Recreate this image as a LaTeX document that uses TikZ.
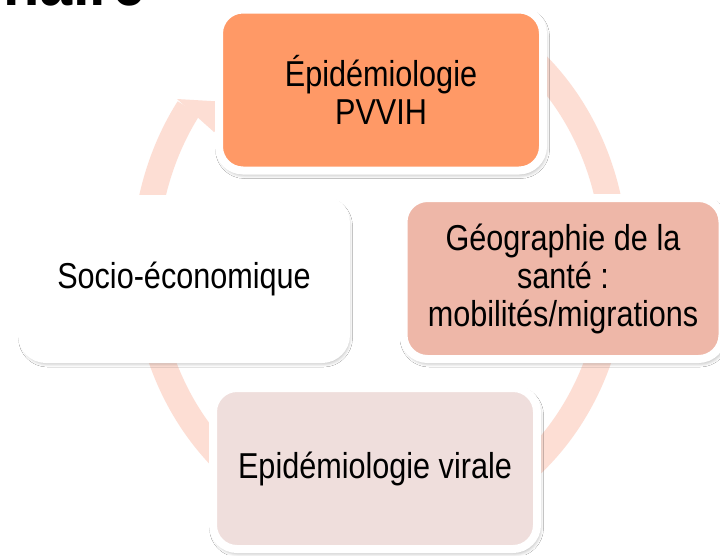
\documentclass[tikz,border=0pt]{standalone}
\usepackage{fontspec}
\setmainfont{Liberation Sans}[FakeStretch=0.85]
\usetikzlibrary{shadows.blur}
\definecolor{ringc}{RGB}{253,222,212}
\definecolor{topc}{RGB}{255,153,102}
\definecolor{rightc}{RGB}{238,183,168}
\definecolor{bottomc}{RGB}{239,222,220}
\tikzset{
  cyclebox/.style={rectangle, rounded corners=24pt, draw=white, line width=8pt,
    minimum width=324pt, minimum height=161pt, inner sep=0pt, align=center,
    font=\fontsize{36}{38}\selectfont, text=black,
    blur shadow={shadow xshift=1.5pt, shadow yshift=-3pt, shadow blur radius=5pt,
      shadow blur steps=8, shadow opacity=45}},
  ringband/.style={draw=ringc, line width=26pt},
  ringhead/.style={fill=ringc, draw=none},
}
\begin{document}
\begin{tikzpicture}[x=1pt, y=-1pt]
  \clip (0,0) rectangle (720,555);
  \fill[white] (0,0) rectangle (720,555);
  % partial title
  \node[anchor=base east, inner sep=0pt, font=\fontsize{70}{70}\selectfont\bfseries] (title) at (146,5) {naire};
  % cycle ring
  \draw[ringband] plot[domain=-65:215.5, samples=300] ({380+235*cos(\x)}, {262+265*sin(\x)});
  \fill[ringhead] (177,99) -- (245,103) -- (214,132) -- cycle;
  % boxes
  \node[cyclebox, fill=topc] (top) at (381,90) {Épidémiologie\\PVVIH};
  \node[cyclebox, fill=white, minimum height=160pt] (left) at (184,279) {Socio-économique};
  \node[cyclebox, fill=rightc, minimum width=319pt] (right) at (563,278.5) {Géographie de la\\santé :\\mobilités/migrations};
  \node[cyclebox, fill=bottomc] (bottom) at (375,468.5) {Epidémiologie virale};
\end{tikzpicture}
\end{document}
